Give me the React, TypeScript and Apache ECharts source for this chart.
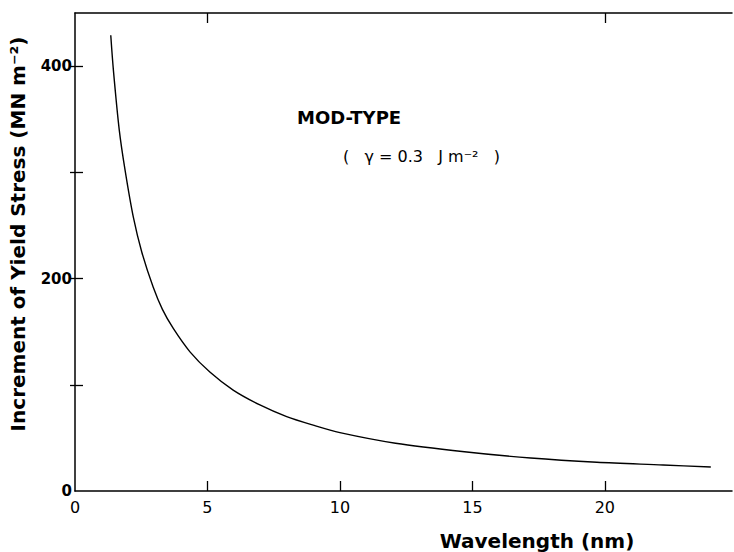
import React, { useEffect, useRef } from "react";
import * as echarts from "echarts";

const wavelength = [1.35, 1.45, 1.67, 1.89, 2.2, 2.52, 2.95, 3.3, 3.71, 4.34, 5.09, 5.97, 6.98, 7.99, 8.99, 10.0, 12.1, 14.7, 17.2, 19.7, 22.2, 24.0];
const stress = [429, 396, 340, 302, 258, 225, 192, 171, 153, 131, 112, 95, 81, 70, 62, 55, 45, 37, 31, 27, 24.5, 22.6];
const xLabels = [0, 5, 10, 15, 20];
const yLabels = [0, 200, 400];
const yTicks = [100, 200, 300, 400];
const xTicksBottom = [5, 10, 15, 20];
const xTicksTop = [5, 20];

const FONT = "'DejaVu Sans', Arial, sans-serif";

export default function App() {
  const ref = useRef<HTMLDivElement>(null);
  useEffect(() => {
    document.body.style.margin = "0";
    if (!ref.current) return;
    const chart = echarts.init(ref.current, null, { renderer: "svg" });
    const axisLine = { show: true, onZero: false, lineStyle: { color: "#000", width: 1.5 } };
    chart.setOption({
      animation: false,
      backgroundColor: "#fff",
      grid: { left: 75, top: 13, right: 2, bottom: 61 },
      xAxis: [
        {
          type: "value",
          position: "bottom",
          min: 0,
          max: 24.8,
          interval: 5,
          axisLine,
          splitLine: { show: false },
          axisTick: { show: true, inside: true, length: 10, customValues: xTicksBottom, lineStyle: { color: "#000", width: 1.3 } },
          axisLabel: { customValues: xLabels, color: "#000", fontSize: 16, fontFamily: FONT, margin: 8 },
        },
        {
          type: "value",
          position: "top",
          min: 0,
          max: 24.8,
          interval: 5,
          axisLine,
          splitLine: { show: false },
          axisTick: { show: true, inside: true, length: 10, customValues: xTicksTop, lineStyle: { color: "#000", width: 1.3 } },
          axisLabel: { show: false },
        },
      ],
      yAxis: [
        {
          type: "value",
          position: "left",
          min: 0,
          max: 450,
          interval: 100,
          axisLine,
          splitLine: { show: false },
          axisTick: { show: true, inside: true, length: 8, customValues: yTicks, lineStyle: { color: "#000", width: 1.3 } },
          axisLabel: { customValues: yLabels, color: "#000", fontSize: 15, fontWeight: "bold", fontFamily: FONT, margin: 3 },
        },
        {
          type: "value",
          position: "right",
          min: 0,
          max: 450,
          interval: 100,
          axisLine: { show: false },
          splitLine: { show: false },
          axisTick: { show: true, inside: true, length: 5, customValues: yTicks, lineStyle: { color: "#000", width: 1.3 } },
          axisLabel: { show: false },
        },
      ],
      series: [
        {
          type: "line",
          data: wavelength.map((w, i) => [w, stress[i]]),
          smooth: 0.3,
          showSymbol: false,
          lineStyle: { color: "#000", width: 1.4 },
        },
      ],
      graphic: [
        {
          type: "text",
          x: 18,
          y: 234,
          rotation: Math.PI / 2,
          style: {
            text: "Increment of Yield Stress (MN m⁻²)",
            fontSize: 20,
            fontWeight: "bold",
            fontFamily: FONT,
            fill: "#000",
            align: "center",
            verticalAlign: "middle",
          },
        },
        {
          type: "text",
          x: 537,
          y: 541,
          style: {
            text: "Wavelength (nm)",
            fontSize: 20,
            fontWeight: "bold",
            fontFamily: FONT,
            fill: "#000",
            align: "center",
            verticalAlign: "middle",
          },
        },
        {
          type: "text",
          x: 297,
          y: 117,
          style: {
            text: "MOD-TYPE",
            fontSize: 18,
            fontWeight: "bold",
            fontFamily: FONT,
            fill: "#000",
            align: "left",
            verticalAlign: "middle",
          },
        },
        {
          type: "text",
          x: 343,
          y: 156,
          style: {
            text: "(   γ = 0.3   J m⁻²   )",
            fontSize: 16,
            fontFamily: FONT,
            fill: "#000",
            align: "left",
            verticalAlign: "middle",
          },
        },
      ],
    });
    return () => chart.dispose();
  }, []);
  return <div ref={ref} style={{ width: 734, height: 552 }} />;
}
